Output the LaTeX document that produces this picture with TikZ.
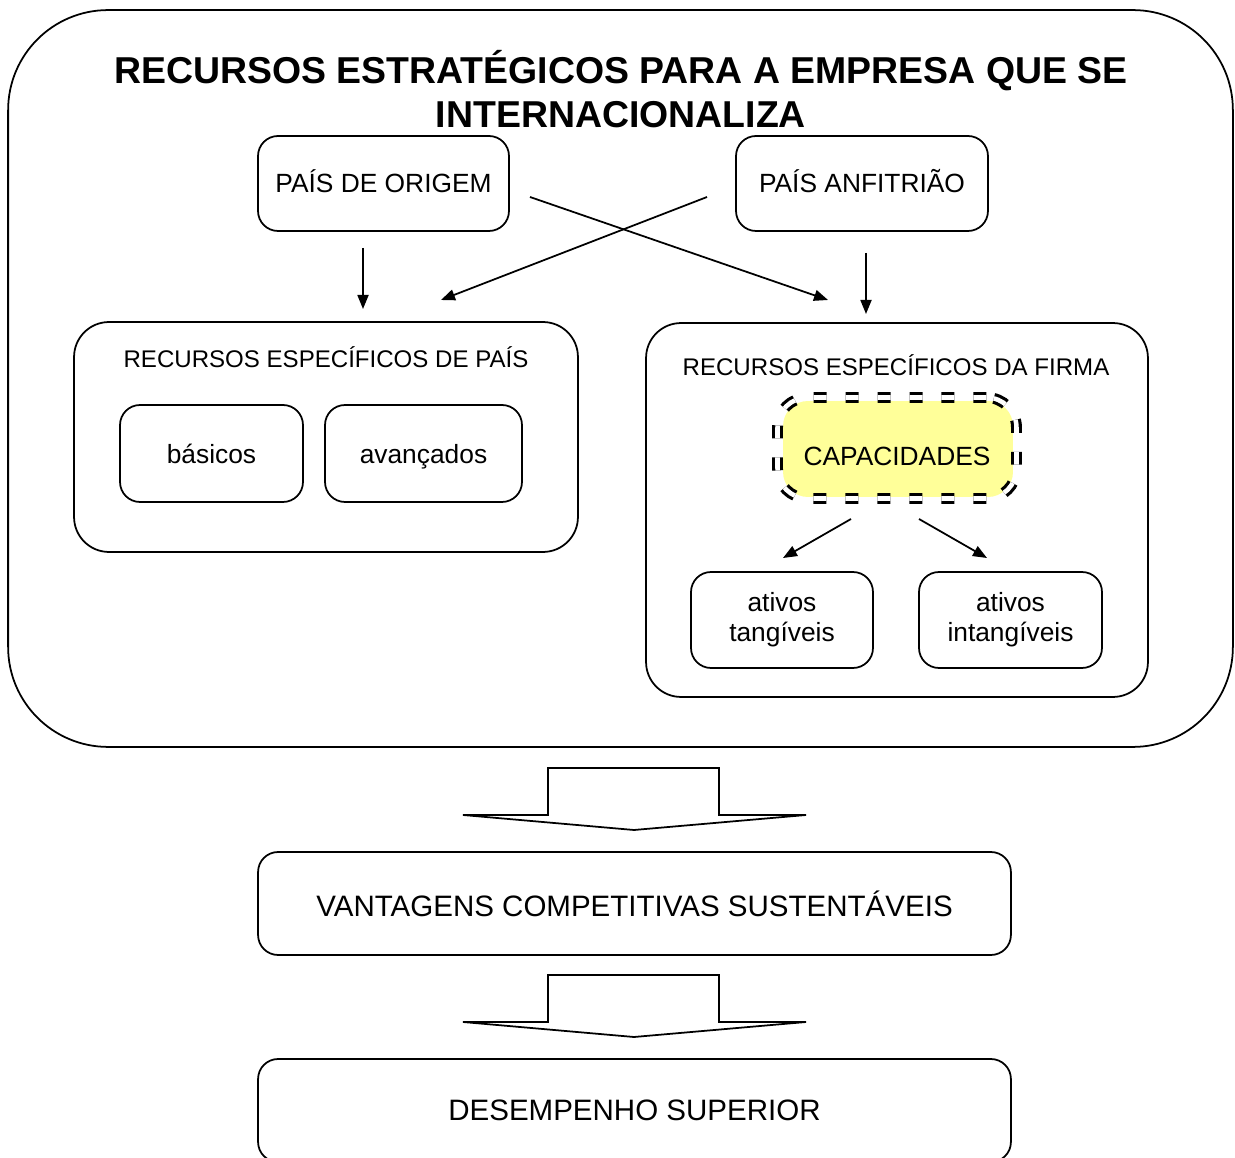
\documentclass[tikz,border=0pt]{standalone}
\usepackage{fontspec}
\setmainfont{Liberation Sans}
\usetikzlibrary{arrows.meta}
\definecolor{capfill}{HTML}{FFFF99}

\begin{document}
\begin{tikzpicture}[x=0.02cm, y=-0.02cm, line width=1pt,
  box/.style={draw, rounded corners=0.4cm, inner sep=0pt, align=center,
    font=\fontsize{15}{17}\selectfont},
  grp/.style={draw, rounded corners=0.7cm, inner sep=0pt},
  lbl/.style={font=\fontsize{13.7}{16}\selectfont},
  big/.style={font=\fontsize{16.8}{19}\selectfont},
  arr/.style={-{Triangle[length=0.28cm,width=0.22cm]}}]
  \useasboundingbox (0,0) rectangle (1235,1158);

  \node[grp, rounded corners=2cm, minimum width=24.5cm, minimum height=14.74cm]
    (frame) at (620.5,378.5) {};
  \node[font=\fontsize{21.3}{25}\selectfont\bfseries, align=center] (title) at (621,89)
    {RECURSOS ESTRATÉGICOS PARA A EMPRESA QUE SE\\INTERNACIONALIZA};

  \node[box, minimum width=5.02cm, minimum height=1.9cm] (origem) at (383.5,183.5) {};
  \node[font=\fontsize{15}{17}\selectfont] at (383.5,181) {PAÍS DE ORIGEM};
  \node[box, minimum width=5.04cm, minimum height=1.9cm] (anfitriao) at (862,183.5) {};
  \node[font=\fontsize{15}{17}\selectfont] at (862,181) {PAÍS ANFITRIÃO};

  % recursos do pais
  \node[grp, minimum width=10.08cm, minimum height=4.6cm] (pais) at (326,437) {};
  \node[lbl] (paislbl) at (326,357) {RECURSOS ESPECÍFICOS DE PAÍS};
  \node[box, minimum width=3.66cm, minimum height=1.94cm] (basicos) at (211.5,453.5) {básicos};
  \node[box, text depth=0pt, minimum width=3.94cm, minimum height=1.94cm] (avancados) at (423.5,453.5) {avançados};

  % recursos da firma
  \node[grp, minimum width=10.04cm, minimum height=7.48cm] (firma) at (897,510) {};
  \node[lbl] (firmalbl) at (896,365) {RECURSOS ESPECÍFICOS DA FIRMA};
  \node[fill=capfill, rounded corners=0.5cm, minimum width=4.6cm, minimum height=1.92cm]
    (capfundo) at (898,449) {};
  \node[draw, double, line width=1.8pt, double distance=2.6pt, rounded corners=0.6cm,
    dash pattern=on 0.26cm off 0.38cm, minimum width=4.78cm, minimum height=2.02cm]
    (capborda) at (897,448) {};
  \node[font=\fontsize{15}{17}\selectfont] (capacidades) at (897,456) {CAPACIDADES};
  \node[box, minimum width=3.64cm, minimum height=1.92cm] (tangiveis) at (782,620) {ativos\\tangíveis};
  \node[box, minimum width=3.66cm, minimum height=1.92cm] (intangiveis) at (1010.5,620) {ativos\\intangíveis};

  \node[box, big, minimum width=15.06cm, minimum height=2.06cm] (vantagens) at (634.5,903.5)
    {VANTAGENS COMPETITIVAS SUSTENTÁVEIS};
  \node[box, big, minimum width=15.06cm, minimum height=2.06cm] (desempenho) at (634.5,1110.5)
    {DESEMPENHO SUPERIOR};

  % pontas das setas
  \coordinate (o1) at (363,248);   \coordinate (o2) at (363,309);
  \coordinate (a1) at (866,253);   \coordinate (a2) at (866,314);
  \coordinate (ox) at (530,197);   \coordinate (ax) at (828,300);
  \coordinate (an) at (707,197);   \coordinate (pn) at (441,300);
  \coordinate (c1) at (851,519);   \coordinate (t1) at (783,558);
  \coordinate (c2) at (919,519);   \coordinate (t2) at (987,558);

  \draw[arr] (o1) -- (o2);
  \draw[arr] (a1) -- (a2);
  \draw[arr] (ox) -- (ax);
  \draw[arr] (an) -- (pn);
  \draw[arr] (c1) -- (t1);
  \draw[arr] (c2) -- (t2);

  % setas largas
  \foreach \dy in {0,207}
    \draw (548,{815+\dy}) -- (548,{768+\dy}) -- (719,{768+\dy}) -- (719,{815+\dy})
      -- (806,{815+\dy}) -- (634,{830+\dy}) -- (463,{815+\dy}) -- cycle;
\end{tikzpicture}
\end{document}
